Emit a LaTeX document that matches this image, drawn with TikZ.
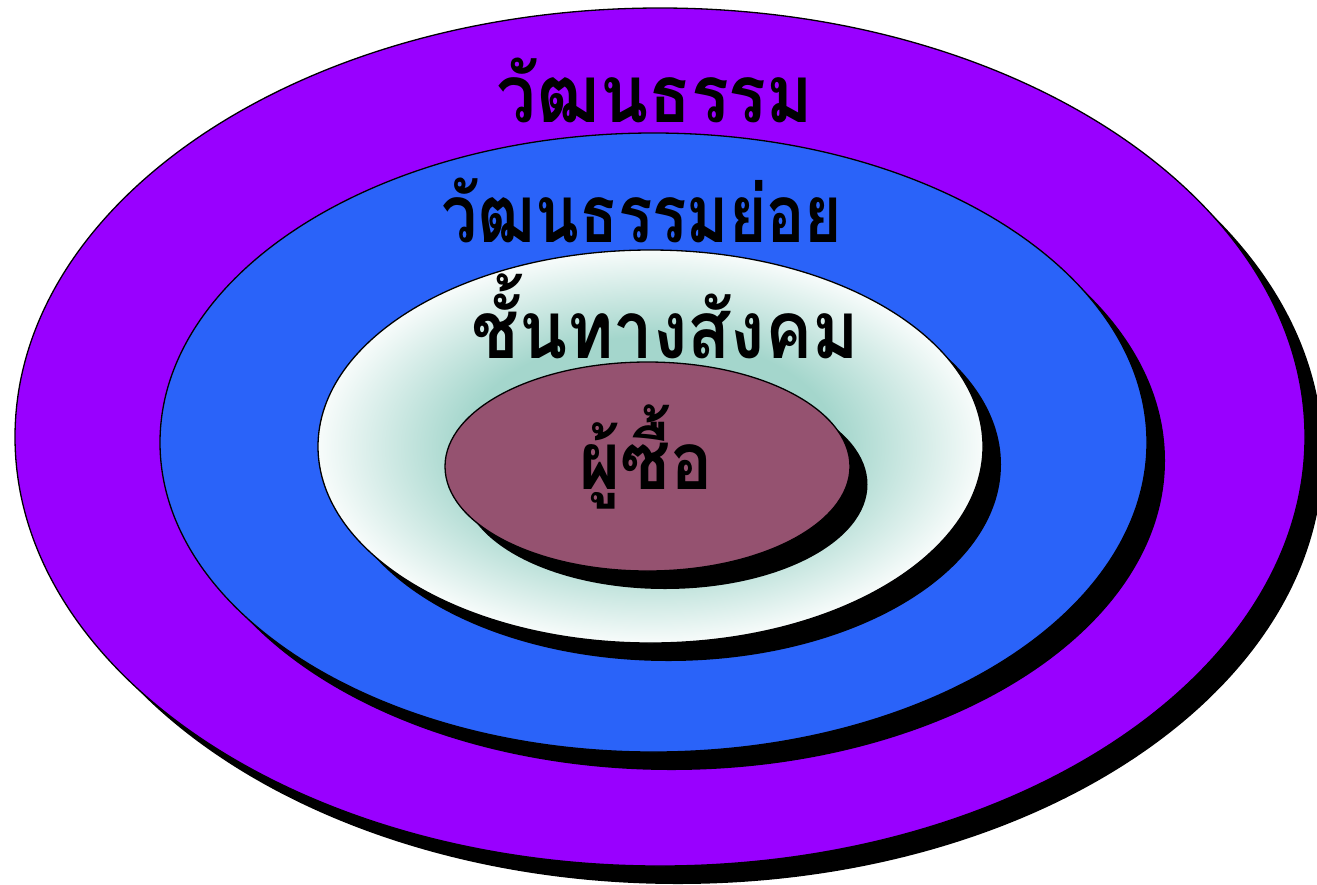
\documentclass[tikz,border=0pt]{standalone}
\usepackage{fontspec}
\newfontfamily\thaifont[Script=Thai, FakeStretch=0.88]{Loma}
\newfontfamily\thainarrow[Script=Thai, FakeStretch=0.80]{Loma}
\definecolor{outerpurple}{HTML}{9900FF}
\definecolor{subblue}{HTML}{2A63F9}
\definecolor{buyerrose}{HTML}{955270}
\definecolor{tealmid}{HTML}{A4D6CC}
\pgfdeclareradialshading{classshade}{\pgfpoint{0bp}{0bp}}{color(0bp)=(tealmid); color(14bp)=(tealmid); color(26bp)=(white); color(50bp)=(white)}
\tikzset{
  ring/.style={draw=black, line width=1.3pt},
  shadowring/.style={fill=black},
  label/.style={font=\thaifont\bfseries\fontsize{80}{92}\selectfont, anchor=base, inner sep=0pt},
  narrowlabel/.style={label, font=\thainarrow\bfseries\fontsize{80}{92}\selectfont}
}
\begin{document}
\begin{tikzpicture}[x=1pt,y=-1pt]
\useasboundingbox (0,0) rectangle (1317,884);
% outer: culture
\fill[shadowring] (678,455) ellipse [x radius=645, y radius=429];
\fill[outerpurple] (660,437) ellipse [x radius=645, y radius=429];
\draw[ring] (660,437) ellipse [x radius=645, y radius=429];
% subculture
\fill[shadowring] (671.5,460.5) ellipse [x radius=493.5, y radius=309.5];
\fill[subblue] (653.5,442.5) ellipse [x radius=493.5, y radius=309.5];
\draw[ring] (653.5,442.5) ellipse [x radius=493.5, y radius=309.5];
% social class
\fill[shadowring] (668.5,464.5) ellipse [x radius=332.5, y radius=196.5];
\shade[shading=classshade] (650.5,446.5) ellipse [x radius=332.5, y radius=196.5];
\draw[ring] (650.5,446.5) ellipse [x radius=332.5, y radius=196.5];
% buyer
\fill[shadowring] (665,484.5) ellipse [x radius=202.5, y radius=104.5];
\fill[buyerrose] (647.5,466.5) ellipse [x radius=202.5, y radius=104.5];
\draw[ring] (647.5,466.5) ellipse [x radius=202.5, y radius=104.5];
% labels
\node[label] (culture) at (655,122) {วัฒนธรรม};
\node[narrowlabel] (subculture) at (642,242) {วัฒนธรรมย่อย};
\node[label] (socialclass) at (665,358) {ชั้นทางสังคม};
\node[label] (buyer) at (646,489) {ผู้ซื้อ};
\end{tikzpicture}
\end{document}
